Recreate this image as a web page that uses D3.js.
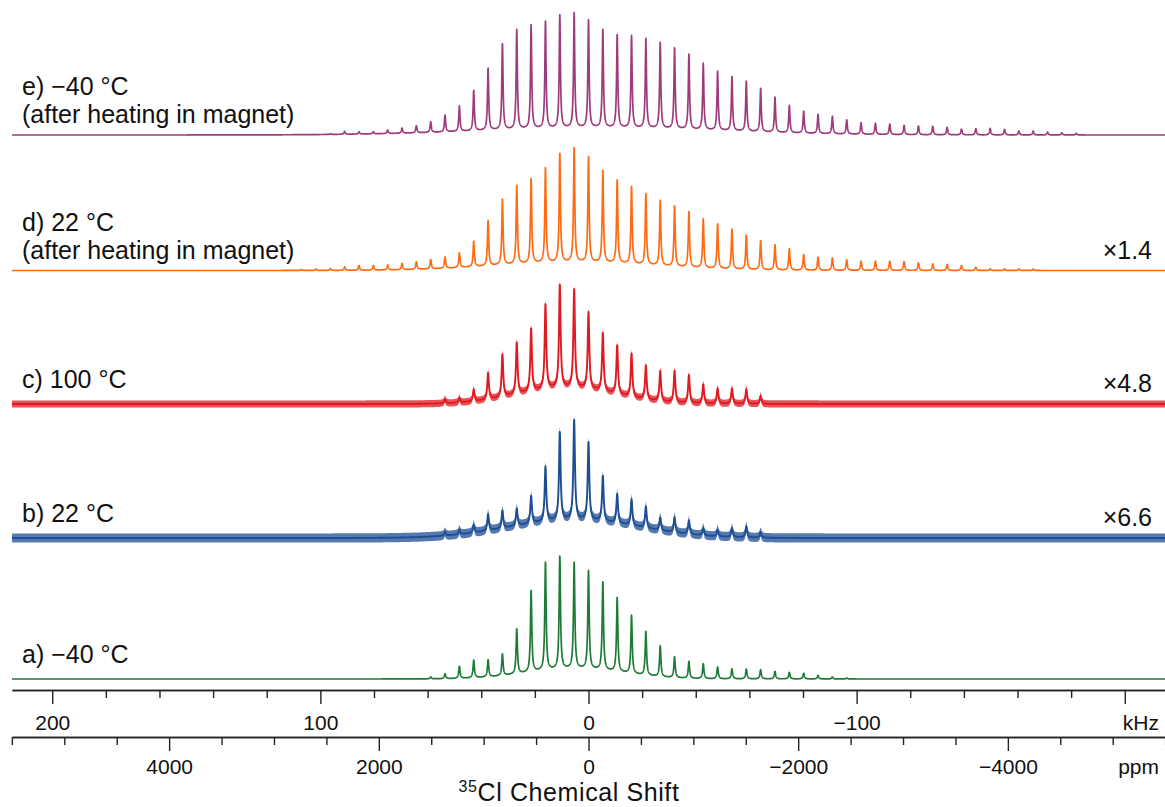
<!DOCTYPE html>
<html>
<head>
<meta charset="utf-8">
<script src="https://cdn.jsdelivr.net/npm/d3@7"></script>
<style>
  body { margin: 0; background: #fff; }
  svg { display: block; }
  text { font-family: "Liberation Sans", Arial, Helvetica, sans-serif; fill: #111; }
</style>
</head>
<body>
<svg id="chart" width="1165" height="807"></svg>
<script>
// 35Cl MAS spectra: sideband spacing and spectrometer frequency
const spinRateKHz = 5.35;
const larmorMHz = 39.1;

// Traces, top to bottom
const traceLabels = [
    ["e) \u221240 °C", "(after heating in magnet)"],
    ["d) 22 °C", "(after heating in magnet)"],
    ["c) 100 °C"],
    ["b) 22 °C"],
    ["a) \u221240 °C"]
];
const traceFactors = ["", "×1.4", "×4.8", "×6.6", ""];
const traceColors = ["#9d3b7c", "#ff6a13", "#e01a22", "#1d4e94", "#1d7b36"];

// Sideband order of the first (leftmost) peak of each trace; orders run downward from it
const firstOrder = [18, 20, 10, 10, 11];

// Peak-top intensities, left to right
const peaksE = [1.3, 3.7, 3.3, 3.3, 5, 7, 9.3, 13.3, 20, 29.3, 44.7, 67, 91.7, 105.7, 110.3, 114, 120.7, 122.7,
    115.3, 105.7, 101, 99.7, 96.7, 92.7, 87.7, 81, 72, 64, 58.7, 54, 46.7, 38, 29.7, 24, 20.7, 18.7, 15.3,
    12.3, 11.7, 11, 9.7, 9, 8.7, 7.7, 6, 6.3, 6.7, 5.7, 4, 4, 3, 2.3, 1.7];
const peaksD = [1, 1.5, 2, 3.7, 5, 5, 5.7, 7, 8.7, 11, 13.7, 17.7, 29.3, 50, 71.7, 85.3, 92, 103, 117.7, 123,
    114, 100.3, 91, 84.3, 77, 70.3, 65, 59, 52, 46.7, 41.7, 35.5, 30, 25.7, 21.7, 16, 13.3, 12.7, 10.7,
    9.3, 9.3, 9.3, 9, 7.7, 6.7, 6, 5, 3.3, 1.7, 1.7, 1.7, 1.5];
const peaksC = [5, 6, 14.7, 31.3, 50, 61.7, 75.7, 100, 119.7, 115, 92.3, 71.3, 59, 50.7, 38.7, 33.3, 33.3,
    29, 19.7, 15.7, 15.7, 15, 8];
const peaksB = [6, 8, 13.3, 24, 27.7, 29.7, 42.3, 71.7, 106.3, 118.3, 96, 62.3, 44.3, 39, 31.7, 20.7, 21,
    17.7, 10, 8.3, 10, 11.7, 6];
const peaksA = [2, 5.3, 12.7, 19, 19.3, 25.3, 50.3, 88.7, 117, 123.3, 117, 108.7, 97.3, 81.7, 64, 47.7,
    33.3, 22.3, 17.7, 15.3, 12, 10.3, 10, 9.3, 7.7, 6.7, 5.7, 3.7, 2, 1];
const tracePeaks = [peaksE, peaksD, peaksC, peaksB, peaksA];

// Lorentzian half width of the sidebands (kHz)
const lineHalfWidth = [0.27, 0.28, 0.36, 0.36, 0.3];
// Broad underlying hump: centre (kHz), width (kHz), height
const humpCentre = [-5, 5, 8, 5, 5];
const humpWidth = [45, 30, 18, 24, 18];
const humpHeight = [7, 8, 16, 18, 10];
// Baseline noise level
const noiseLevel = [0, 0, 3.6, 4.6, 0];

// Axis ticks
const kHzMajor = [200, 100, 0, -100, -200];
const kHzMinorStep = 20;
const ppmMajor = [4000, 2000, 0, -2000, -4000];
const ppmMinorStep = 500;

// Layout
const width = 1165, height = 807;
const left = 12, right = 1165;
const traceBase = [135, 270.5, 404, 538, 679];
const traceSpan = 125;
const kHzAxisY = 690, ppmAxisY = 737;

const svg = d3.select("#chart");

const x = d3.scaleLinear().domain([215, -215]).range([left, right]);
const xPpm = d3.scaleLinear()
    .domain([215 * 1000 / larmorMHz, -215 * 1000 / larmorMHz])
    .range([left, right]);

// Build each trace from its sideband list
const grid = d3.range(215, -215.001, -0.04);

tracePeaks.forEach((tops, t) => {
    const pos = tops.map((_, i) => (firstOrder[t] - i) * spinRateKHz);
    const g2 = lineHalfWidth[t] * lineHalfWidth[t];
    const lor = d => g2 / (d * d + g2);
    const hump = v => humpHeight[t] * Math.exp(-0.5 * Math.pow((v - humpCentre[t]) / humpWidth[t], 2));

    // amplitudes so that the peak tops land at the read values
    let amps = tops.map((h, i) => Math.max(0, h - hump(pos[i])));
    for (let it = 0; it < 6; it++) {
        amps = tops.map((h, i) => {
            let other = 0;
            pos.forEach((p, j) => { if (j !== i) other += amps[j] * lor(pos[i] - p); });
            return Math.max(0, h - hump(pos[i]) - other);
        });
    }

    const data = grid.map(v => {
        let s = hump(v);
        pos.forEach((p, j) => { s += amps[j] * lor(v - p); });
        return { v, s };
    });

    const y = d3.scaleLinear().domain([0, traceSpan]).range([traceBase[t], traceBase[t] - traceSpan]);

    if (noiseLevel[t] > 0) {
        svg.append("path")
            .datum(data)
            .attr("fill", traceColors[t])
            .attr("fill-opacity", 0.75)
            .attr("d", d3.area()
                .x(d => x(d.v))
                .y0(d => y(d.s) + noiseLevel[t])
                .y1(d => y(d.s) - noiseLevel[t]));
    }

    svg.append("path")
        .datum(data)
        .attr("fill", "none")
        .attr("stroke", traceColors[t])
        .attr("stroke-width", noiseLevel[t] > 0 ? 1.9 : 1.7)
        .attr("stroke-linejoin", "round")
        .attr("d", d3.line().x(d => x(d.v)).y(d => y(d.s)));

    // labels
    const firstLineY = traceLabels[t].length > 1 ? traceBase[t] - 40 : traceBase[t] - 16;
    traceLabels[t].forEach((line, k) => {
        svg.append("text")
            .attr("x", 22)
            .attr("y", firstLineY + k * 28)
            .attr("font-size", "25px")
            .text(line);
    });
    if (traceFactors[t]) {
        svg.append("text")
            .attr("x", 1152)
            .attr("y", traceBase[t] - 12)
            .attr("text-anchor", "end")
            .attr("font-size", "25px")
            .text(traceFactors[t]);
    }
});

// kHz axis
const fmt = d3.format("d");
const kHzMinor = d3.range(200, -201, -kHzMinorStep).filter(v => !kHzMajor.includes(v));

const kHzG = svg.append("g").attr("transform", `translate(0,${kHzAxisY})`);
kHzG.call(d3.axisBottom(x).tickValues(kHzMinor).tickSize(8).tickSizeOuter(0).tickFormat(""));
kHzG.append("g").call(d3.axisBottom(x).tickValues(kHzMajor).tickSize(14).tickSizeOuter(0).tickPadding(11)
    .tickFormat(v => v === -200 ? "" : fmt(v)));

// ppm axis
const ppmMinor = d3.range(5500, -5501, -ppmMinorStep).filter(v => !ppmMajor.includes(v));
const ppmG = svg.append("g").attr("transform", `translate(0,${ppmAxisY})`);
ppmG.call(d3.axisBottom(xPpm).tickValues(ppmMinor).tickSize(8).tickSizeOuter(0).tickFormat(""));
ppmG.append("g").call(d3.axisBottom(xPpm).tickValues(ppmMajor).tickSize(14).tickSizeOuter(0).tickPadding(8)
    .tickFormat(fmt));

[kHzG, ppmG].forEach(a => {
    a.selectAll("path.domain").attr("stroke", "#222").attr("stroke-width", 1.6);
    a.selectAll("line").attr("stroke", "#222").attr("stroke-width", 1.4);
    a.selectAll("text").attr("font-size", "21px").attr("fill", "#111")
        .attr("font-family", "'Liberation Sans', Arial, sans-serif");
});

// unit labels
svg.append("text").attr("x", 1159).attr("y", kHzAxisY + 40).attr("text-anchor", "end")
    .attr("font-size", "21px").text("kHz");
svg.append("text").attr("x", 1159).attr("y", ppmAxisY + 37).attr("text-anchor", "end")
    .attr("font-size", "21px").text("ppm");

// axis title
const title = svg.append("text").attr("x", 569).attr("y", 801)
    .attr("text-anchor", "middle").attr("font-size", "25px").attr("letter-spacing", "0.6px");
title.append("tspan").attr("font-size", "16px").attr("dy", "-9").text("35");
title.append("tspan").attr("dy", "9").text("Cl Chemical Shift");
</script>
</body>
</html>
